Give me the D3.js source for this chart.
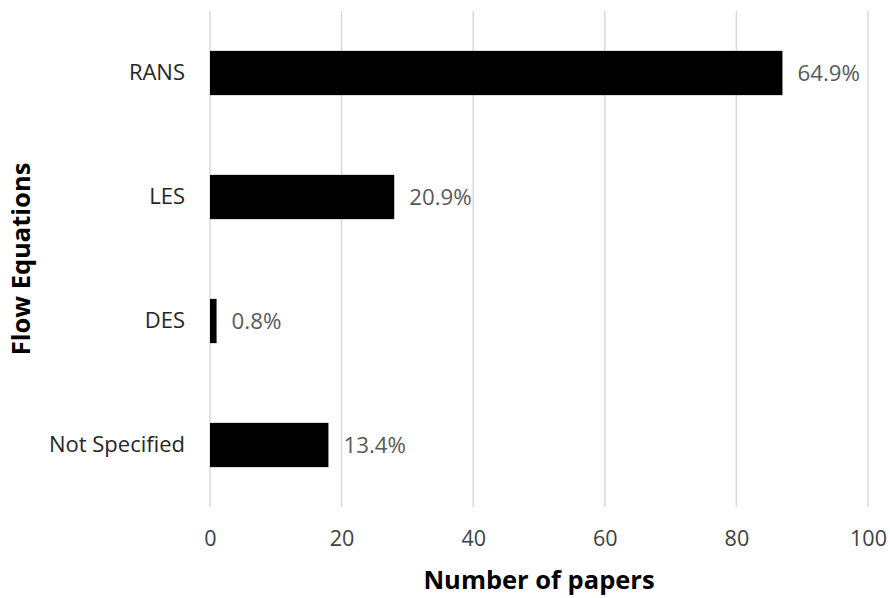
<!DOCTYPE html>
<html>
<head>
<meta charset="utf-8">
<script src="https://cdn.jsdelivr.net/npm/d3@7"></script>
<style>
  html, body { margin: 0; padding: 0; background: #fff; }
  svg { display: block; font-family: "Open Sans", sans-serif; }
</style>
</head>
<body>
<svg id="chart" width="890" height="598"></svg>
<script>
// Papers per flow-equation approach
const categories = ["RANS", "LES", "DES", "Not Specified"];
const paperCounts = [87, 28, 1, 18];
const shareLabels = ["64.9%", "20.9%", "0.8%", "13.4%"];
const xTicks = [0, 20, 40, 60, 80, 100];

const svg = d3.select("#chart");
const plot = { left: 210, right: 868, top: 11, bottom: 507 };

const x = d3.scaleLinear().domain([0, 100]).range([plot.left, plot.right]);
const y = d3.scaleBand()
  .domain(categories)
  .range([plot.top, plot.bottom])
  .paddingInner(0.643)
  .paddingOuter(0.3215);

// vertical gridlines
svg.append("g")
  .selectAll("line")
  .data(xTicks)
  .join("line")
  .attr("x1", d => x(d)).attr("x2", d => x(d))
  .attr("y1", plot.top).attr("y2", plot.bottom)
  .attr("stroke", "#d9d9d9")
  .attr("stroke-width", 1.5);

// bars
svg.append("g")
  .selectAll("rect")
  .data(categories)
  .join("rect")
  .attr("x", x(0))
  .attr("y", d => y(d))
  .attr("width", (d, i) => x(paperCounts[i]) - x(0))
  .attr("height", y.bandwidth())
  .attr("fill", "#000");

// share labels at bar ends
svg.append("g")
  .selectAll("text")
  .data(categories)
  .join("text")
  .attr("x", (d, i) => x(paperCounts[i]) + 15)
  .attr("y", d => y(d) + y.bandwidth() / 2)
  .attr("dy", "0.35em")
  .attr("font-size", 22.3)
  .attr("fill", "#595959")
  .text((d, i) => shareLabels[i]);

// category axis
const yAxis = d3.axisLeft(y).tickSize(0).tickPadding(25);
const gy = svg.append("g").attr("transform", `translate(${plot.left},0)`).call(yAxis);
gy.select(".domain").remove();
gy.selectAll("text").attr("font-size", 22).attr("fill", "#262626")
  .attr("font-family", "Open Sans, sans-serif");

// value axis
const xAxis = d3.axisBottom(x).tickValues(xTicks).tickSize(0).tickPadding(24);
const gx = svg.append("g").attr("transform", `translate(0,${plot.bottom})`).call(xAxis);
gx.select(".domain").remove();
gx.selectAll("text").attr("font-size", 21.5).attr("fill", "#404040")
  .attr("font-family", "Open Sans, sans-serif");

// axis titles
svg.append("text")
  .attr("x", (plot.left + plot.right) / 2)
  .attr("y", 589)
  .attr("text-anchor", "middle")
  .attr("font-size", 25.5)
  .attr("font-weight", "bold")
  .attr("fill", "#000")
  .text("Number of papers");

svg.append("text")
  .attr("transform", `translate(30,${(plot.top + plot.bottom) / 2}) rotate(-90)`)
  .attr("text-anchor", "middle")
  .attr("font-size", 25.5)
  .attr("font-weight", "bold")
  .attr("fill", "#000")
  .text("Flow Equations");
</script>
</body>
</html>
